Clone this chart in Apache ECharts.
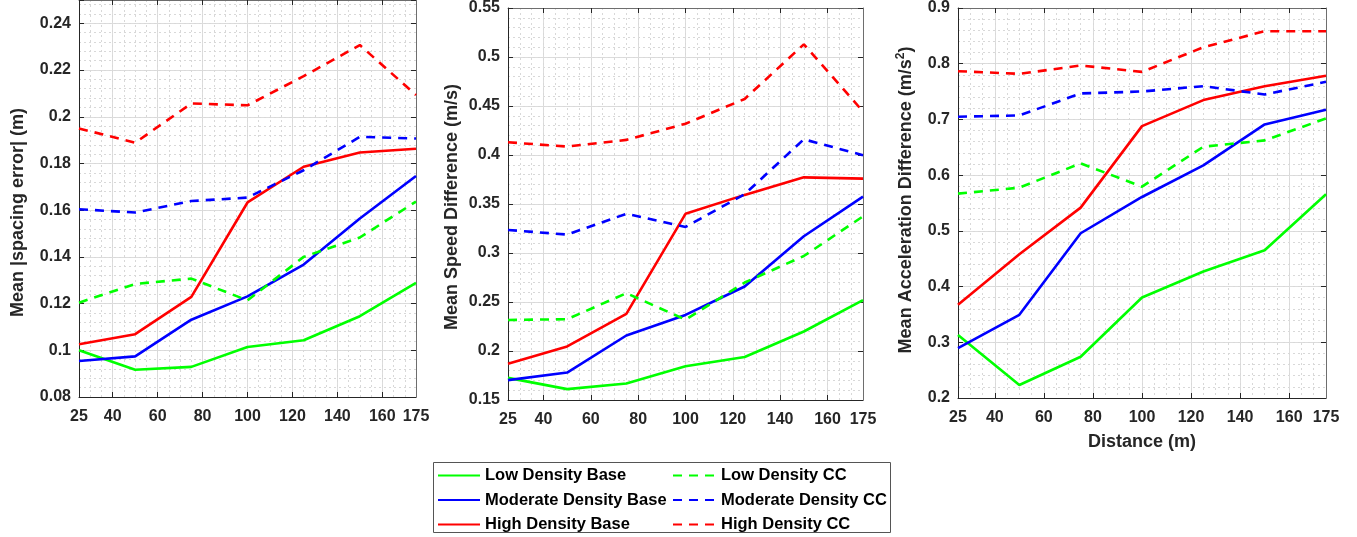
<!DOCTYPE html>
<html>
<head>
<meta charset="utf-8">
<script src="https://cdn.jsdelivr.net/npm/echarts@6/dist/echarts.min.js"></script>
<style>html,body{margin:0;padding:0;background:#fff;}#c{width:1357px;height:537px;}</style>
</head>
<body>
<div id="c"></div>
<script>
// ---------- data ----------
const distances = [25, 50, 75, 100, 125, 150, 175];
const xTickLabels = [25, 40, 60, 80, 100, 120, 140, 160, 175];
const xGridTicks = [40, 60, 80, 100, 120, 140, 160];
const seriesNames = ['Low Density Base', 'Moderate Density Base', 'High Density Base',
                     'Low Density CC', 'Moderate Density CC', 'High Density CC'];

// Panel 1: Mean |spacing error| (m)
const spacingLowBase  = [0.100, 0.0917, 0.0929, 0.1014, 0.1043, 0.1146, 0.1289];
const spacingModBase  = [0.0954, 0.0974, 0.1131, 0.1231, 0.1367, 0.1564, 0.1746];
const spacingHighBase = [0.1026, 0.1069, 0.1229, 0.1633, 0.1786, 0.1847, 0.1863];
const spacingLowCC    = [0.1204, 0.1284, 0.1307, 0.1214, 0.1400, 0.1483, 0.1637];
const spacingModCC    = [0.1604, 0.1590, 0.1639, 0.1654, 0.1771, 0.1914, 0.1907];
const spacingHighCC   = [0.1950, 0.1889, 0.2057, 0.2049, 0.2174, 0.2307, 0.2093];

// Panel 2: Mean Speed Difference (m/s)
const speedLowBase  = [0.1726, 0.1611, 0.1669, 0.1844, 0.1939, 0.2199, 0.2520];
const speedModBase  = [0.1703, 0.1780, 0.2158, 0.2368, 0.2658, 0.3171, 0.3576];
const speedHighBase = [0.1871, 0.2047, 0.2378, 0.3400, 0.3593, 0.3772, 0.3759];
const speedLowCC    = [0.2317, 0.2324, 0.2590, 0.2320, 0.2699, 0.2969, 0.3374];
const speedModCC    = [0.3235, 0.3188, 0.3400, 0.3266, 0.3600, 0.4160, 0.3998];
const speedHighCC   = [0.4130, 0.4086, 0.4154, 0.4319, 0.4572, 0.5129, 0.4444];

// Panel 3: Mean Acceleration Difference (m/s^2)
const accLowBase  = [0.3129, 0.2233, 0.2741, 0.3804, 0.4270, 0.4652, 0.5656];
const accModBase  = [0.2896, 0.3493, 0.4957, 0.5608, 0.6176, 0.6910, 0.7173];
const accHighBase = [0.3673, 0.4581, 0.5417, 0.6880, 0.7347, 0.7597, 0.7783];
const accLowCC    = [0.5668, 0.5775, 0.6211, 0.5793, 0.6510, 0.6624, 0.7018];
const accModCC    = [0.7048, 0.7072, 0.7466, 0.7502, 0.7597, 0.7448, 0.7675];
const accHighCC   = [0.7866, 0.7818, 0.7968, 0.7854, 0.8296, 0.8583, 0.8583];

// ---------- styling ----------
const FONT = 'Liberation Sans, Arial, sans-serif';
const TXT = '#262626';
const colors = ['#00ff00', '#0000ff', '#ff0000', '#00ff00', '#0000ff', '#ff0000'];
const dashed = [false, false, false, true, true, true];

const panels = [
  { name: 'Mean |spacing error| (m)', min: 0.08, max: 0.25, interval: 0.02, minor: 0.004, hideAbove: 0.245,
    grid: { left: 79, top: 0, width: 337, height: 397 }, nameGap: 52, namePad: [0, 28, 0, 0],
    data: [spacingLowBase, spacingModBase, spacingHighBase, spacingLowCC, spacingModCC, spacingHighCC] },
  { name: 'Mean Speed Difference (m/s)', min: 0.15, max: 0.55, interval: 0.05, minor: 0.01, hideAbove: 9,
    grid: { left: 508, top: 5, width: 355, height: 395 }, nameGap: 47, namePad: [0, 6, 0, 0],
    data: [speedLowBase, speedModBase, speedHighBase, speedLowCC, speedModCC, speedHighCC] },
  { name: '{a|Mean Acceleration Difference (m/s}{s|2}{a|)}', min: 0.2, max: 0.9, interval: 0.1, minor: 0.02, hideAbove: 9,
    grid: { left: 958, top: 6, width: 368, height: 392 }, nameGap: 41, rich: true, namePad: [0, 0, 0, 6],
    data: [accLowBase, accModBase, accHighBase, accLowCC, accModCC, accHighCC] }
];

const grids = [], xAxes = [], yAxes = [], series = [];
panels.forEach((p, g) => {
  grids.push(Object.assign({ containLabel: false }, p.grid));
  // main bottom x axis
  xAxes.push({
    type: 'value', gridIndex: g, min: 25, max: 175, interval: 5, position: 'bottom',
    name: g === 2 ? 'Distance (m)' : '', nameLocation: 'middle', nameGap: 35,
    nameTextStyle: { fontFamily: FONT, fontWeight: 'bold', fontSize: 18, color: TXT },
    axisLine: { show: true, onZero: false, lineStyle: { color: '#262626', width: 1 } },
    axisTick: { show: true, inside: true, length: 5, customValues: xGridTicks, lineStyle: { color: '#262626' } },
    axisLabel: { customValues: xTickLabels, margin: 12, fontFamily: FONT, fontWeight: 'bold', fontSize: 16, color: TXT,
                 showMinLabel: true, showMaxLabel: true },
    splitLine: { show: true, lineStyle: { color: '#dcdcdc', width: 1 } }
  });
  // top x axis (box)
  xAxes.push({
    type: 'value', gridIndex: g, min: 25, max: 175, interval: 5, position: 'top',
    axisLine: { show: true, onZero: false, lineStyle: { color: '#6e6e6e', width: 1 } },
    axisTick: { show: true, inside: true, length: 5, customValues: xGridTicks, lineStyle: { color: '#262626' } },
    axisLabel: { show: false }, splitLine: { show: false }
  });
  // minor x grid
  xAxes.push({
    type: 'value', gridIndex: g, min: 25, max: 175, interval: 5, show: true,
    axisLine: { show: false }, axisTick: { show: false }, axisLabel: { show: false },
    splitLine: { show: true, lineStyle: { color: '#d8d8d8', width: 1, type: [2, 3] } }
  });
  // main left y axis
  const nameStyle = { fontFamily: FONT, fontWeight: 'bold', fontSize: 18, color: TXT, padding: p.namePad };
  if (p.rich) {
    nameStyle.rich = {
      a: { fontFamily: FONT, fontWeight: 'bold', fontSize: 18, color: TXT, lineHeight: 22 },
      s: { fontFamily: FONT, fontWeight: 'bold', fontSize: 12, color: TXT, verticalAlign: 'top', lineHeight: 14 }
    };
  }
  yAxes.push({
    type: 'value', gridIndex: g, min: p.min, max: p.max, interval: p.interval, position: 'left',
    name: p.name, nameLocation: 'middle', nameGap: p.nameGap, nameTextStyle: nameStyle,
    axisLine: { show: true, onZero: false, lineStyle: { color: '#262626', width: 1 } },
    axisTick: { show: true, inside: true, length: 5, lineStyle: { color: '#262626' } },
    axisLabel: { margin: 8, fontFamily: FONT, fontWeight: 'bold', fontSize: 16, color: TXT,
                 formatter: v => (v > p.hideAbove ? '' : String(+v.toFixed(3))) },
    splitLine: { show: true, lineStyle: { color: '#dcdcdc', width: 1 } }
  });
  // right y axis (box)
  yAxes.push({
    type: 'value', gridIndex: g, min: p.min, max: p.max, interval: p.interval, position: 'right',
    axisLine: { show: true, onZero: false, lineStyle: { color: '#6e6e6e', width: 1 } },
    axisTick: { show: true, inside: true, length: 5, lineStyle: { color: '#262626' } },
    axisLabel: { show: false }, splitLine: { show: false }
  });
  // minor y grid
  yAxes.push({
    type: 'value', gridIndex: g, min: p.min, max: p.max, interval: p.minor, show: true,
    axisLine: { show: false }, axisTick: { show: false }, axisLabel: { show: false },
    splitLine: { show: true, lineStyle: { color: '#d8d8d8', width: 1, type: [2, 3] } }
  });
  p.data.forEach((arr, k) => {
    series.push({
      type: 'line', name: seriesNames[k], xAxisIndex: 3 * g, yAxisIndex: 3 * g,
      data: distances.map((d, i) => [d, arr[i]]),
      symbol: 'none', z: 10,
      lineStyle: { color: colors[k], width: 2.6, type: dashed[k] ? [9, 7] : 'solid' },
      itemStyle: { color: colors[k] },
      emphasis: { disabled: true }
    });
  });
});

const legendText = { fontFamily: FONT, fontWeight: 'bold', fontSize: 16.5, color: '#000' };
const legendItem = { color: 'rgba(0,0,0,0)', borderWidth: 0, opacity: 0 };
const option = {
  animation: false,
  backgroundColor: '#fff',
  grid: grids,
  xAxis: xAxes,
  yAxis: yAxes,
  series: series,
  legend: [
    { data: seriesNames.slice(0, 3), orient: 'vertical', left: 437, top: 467, itemWidth: 42, itemHeight: 16,
      itemGap: 7.5, textStyle: legendText, selectedMode: false, padding: 0, itemStyle: legendItem },
    { data: seriesNames.slice(3, 6), orient: 'vertical', left: 672, top: 467, itemWidth: 43, itemHeight: 16,
      itemGap: 7.5, textStyle: legendText, selectedMode: false, padding: 0, itemStyle: legendItem }
  ],
  graphic: [
    { type: 'rect', shape: { x: 433.5, y: 462.5, width: 457, height: 70 },
      style: { fill: null, stroke: '#555', lineWidth: 1 }, silent: true, z: -1 }
  ]
};
const chart = echarts.init(document.getElementById('c'), null, { renderer: 'canvas' });
chart.setOption(option);
</script>
</body>
</html>
